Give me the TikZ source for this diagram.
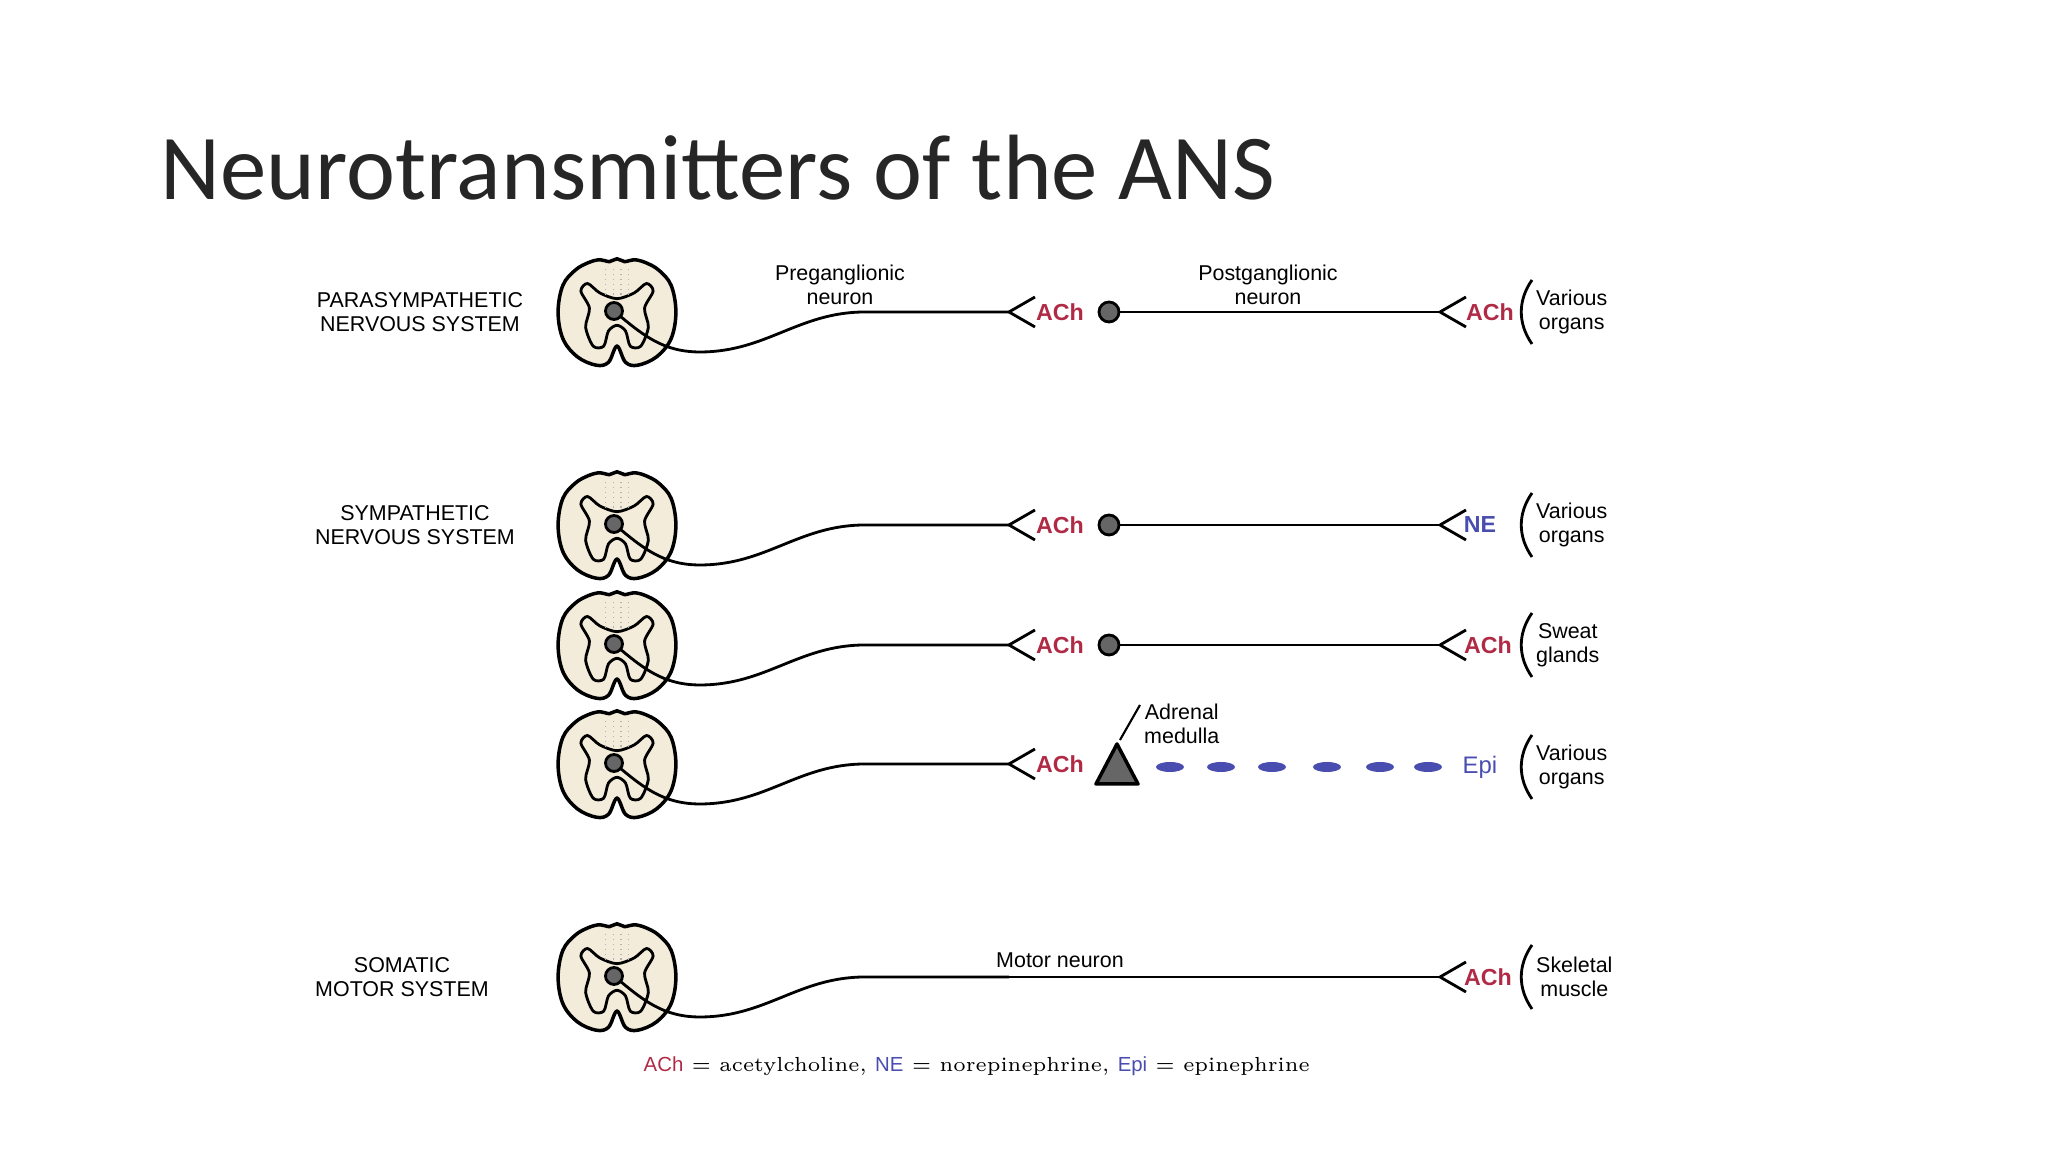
\documentclass[tikz,border=0pt]{standalone}
\usepackage{fontspec}
\newfontfamily\titlefont{Carlito}
\newfontfamily\labfont{Liberation Sans}
\usepackage{xcolor}
\usetikzlibrary{positioning,calc}
\definecolor{achred}{HTML}{B02A45}
\definecolor{neblue}{HTML}{4A4DB0}
\definecolor{cord}{HTML}{F4ECDA}
\tikzset{
  lab/.style={font=\labfont\fontsize{6.1}{6.9}\selectfont,align=center,inner sep=1pt},
  ach/.style={lab,text=achred,font=\labfont\bfseries\fontsize{6.6}{7}\selectfont},
  ne/.style={lab,text=neblue,font=\labfont\bfseries\fontsize{6.6}{7}\selectfont},
  axon/.style={black,line width=0.8pt},
  cordpic/.pic={
    \begin{scope}[scale=0.95]
    \draw[line width=1pt,fill=cord] plot[smooth cycle,tension=0.6] coordinates{
      (0,-0.36) (0.09,-0.53) (0.22,-0.56) (0.42,-0.47) (0.57,-0.28) (0.62,0) (0.57,0.28)
      (0.44,0.44) (0.3,0.52) (0.18,0.55) (0.08,0.53) (0,0.56) (-0.08,0.53) (-0.18,0.55)
      (-0.3,0.52) (-0.44,0.44) (-0.57,0.28) (-0.62,0) (-0.57,-0.28) (-0.42,-0.47)
      (-0.22,-0.56) (-0.09,-0.53)};
    \draw[line width=0.8pt] plot[smooth cycle,tension=0.5] coordinates{
      (0,0.14) (0.18,0.2) (0.31,0.3) (0.38,0.22) (0.29,0.04) (0.33,-0.16) (0.25,-0.36)
      (0.14,-0.36) (0.09,-0.2) (0,-0.14) (-0.09,-0.2) (-0.14,-0.36) (-0.25,-0.36)
      (-0.33,-0.16) (-0.29,0.04) (-0.38,0.22) (-0.31,0.3) (-0.18,0.2)};
    \foreach \dx in {-0.12,-0.04,0.04,0.12}
      \draw[gray!60,densely dotted] (\dx,0.18) -- (\dx,0.46);
    \end{scope}
  }
}
\begin{document}
\begin{tikzpicture}
\useasboundingbox (0,0) rectangle (20.48,11.52);
% Title
\node[anchor=base west,font=\titlefont\fontsize{26.4}{30}\selectfont,inner sep=0,text=black!85] (title) at (1.6,9.52) {Neurotransmitters of the ANS};

% Spinal cords and preganglionic axons
\foreach \nm/\y in {p/8.4,s/6.27,w/5.07,a/3.88,m/1.75} {
  \pic at (6.17,\y) {cordpic};
  \coordinate (\nm soma) at (6.14,\y+0.01);
  \coordinate (\nm join) at (8.65,\y);
  \coordinate (\nm fork) at (10.09,\y);
  \draw[axon] (\nm soma) to[out=-40,in=180] (7.0,\y-0.40) to[out=0,in=180] (\nm join) -- (\nm fork);
  \fill[gray!80!black] (\nm soma) circle (0.085);
  \draw[line width=0.8pt] (\nm soma) circle (0.085);
}
% ganglion forks
\foreach \nm in {p,s,w,a}
  \draw[axon] ($(\nm fork)+(0.26,0.15)$) -- (\nm fork) -- ($(\nm fork)+(0.26,-0.15)$);

% System labels
\node[lab] (parasys) at (4.2,8.4) {PARASYMPATHETIC\\NERVOUS SYSTEM};
\node[lab] (symsys) at (4.15,6.27) {SYMPATHETIC\\NERVOUS SYSTEM};
\node[lab] (somsys) at (4.02,1.75) {SOMATIC\\MOTOR SYSTEM};
\node[lab] (pregl) at (8.4,8.67) {Preganglionic\\neuron};
\node[lab] (postgl) at (12.68,8.67) {Postganglionic\\neuron};
\node[lab] (motor) at (10.6,1.92) {Motor neuron};

% ACh at ganglia
\foreach \nm/\y in {p/8.4,s/6.27,w/5.07,a/3.88}
  \node[ach] (\nm ach) at (10.6,\y) {ACh};

% ganglion cells and postganglionic axons
\foreach \nm/\y in {p/8.4,s/6.27,w/5.07} {
  \node[circle,draw,line width=0.8pt,fill=gray!80!black,minimum size=0.2cm,inner sep=0] (\nm gang) at (11.09,\y) {};
  \coordinate (\nm end) at (14.4,\y);
  \draw[axon] (\nm gang) -- (\nm end);
}
\coordinate (mend) at (14.4,1.75);
\draw[axon] (mjoin) -- (mend);
\foreach \nm in {p,s,w,m}
  \draw[axon] ($(\nm end)+(0.26,0.15)$) -- (\nm end) -- ($(\nm end)+(0.26,-0.15)$);

% transmitters at targets
\node[ach] (pach2) at (14.9,8.4) {ACh};
\node[ne] (sne) at (14.8,6.27) {NE};
\node[ach] (wach2) at (14.88,5.07) {ACh};
\node[ach] (mach2) at (14.88,1.75) {ACh};
\node[ne,font=\labfont\fontsize{6.8}{7}\selectfont] (aepi) at (14.8,3.85) {Epi};

% Adrenal medulla
\draw[line width=1pt,fill=gray!80!black,line join=round] (10.96,3.68) -- (11.38,3.68) -- (11.17,4.08) -- cycle;
\coordinate (apex) at (11.2,4.12);
\node[lab,anchor=south west] (adrenal) at (11.4,4.04) {Adrenal\\medulla};
\draw[line width=0.6pt] (apex) -- (adrenal.west |- 0,4.47);
\foreach \x in {11.7,12.21,12.72,13.27,13.8,14.28}
  \fill[neblue] (\x,3.85) ellipse (0.14 and 0.05);

% targets
\foreach \nm/\y/\txt in {p/8.4/{Various\\organs},s/6.27/{Various\\organs},w/5.07/{Sweat\\glands},a/3.85/{Various\\organs},m/1.75/{Skeletal\\muscle}} {
  \draw[line width=0.8pt] (15.32,\y+0.32) to[bend right=35] (15.32,\y-0.32);
  \node[lab,anchor=west] (\nm organ) at (15.32,\y) {\txt};
}

% Legend
\node[anchor=west,inner sep=0,font=\fontsize{5.8}{8}\selectfont] (legend) at (6.43,0.86)
  {{\labfont\color{achred}ACh} = acetylcholine, {\labfont\color{neblue}NE} = norepinephrine, {\labfont\color{neblue}Epi} = epinephrine};
\end{tikzpicture}
\end{document}
